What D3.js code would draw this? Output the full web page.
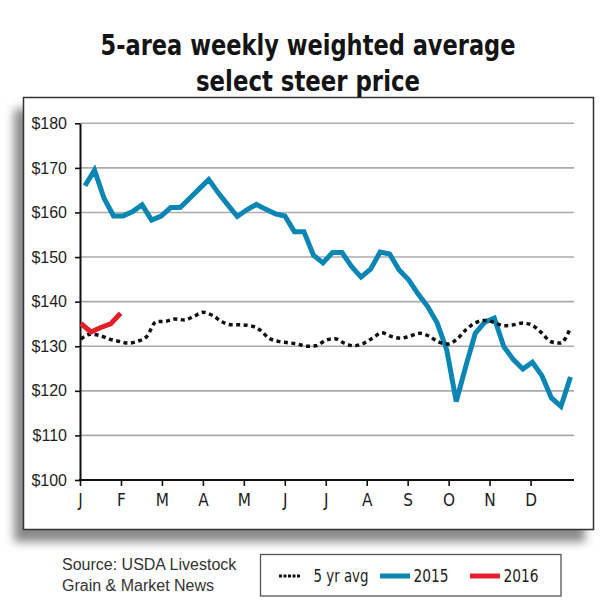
<!DOCTYPE html>
<html>
<head>
<meta charset="utf-8">
<script src="https://cdn.jsdelivr.net/npm/d3@7"></script>
<style>
  body { margin: 0; background: #fff; }
  svg { display: block; }
</style>
</head>
<body>
<div id="chart"></div>
<script>
// Chart data
let titleLines = ["5-area weekly weighted average", "select steer price"]
let monthLabels = ["J","F","M","A","M","J","J","A","S","O","N","D"]
let yTicks = [100,110,120,130,140,150,160,170,180]
let sourceLines = ["Source: USDA Livestock", "Grain & Market News"]
let legendLabels = ["5 yr avg", "2015", "2016"]

// weekly prices, $/cwt
let price2015 = [166.0,169.5,163.2,159.2,159.2,160.2,161.7,158.3,159.2,161.1,
                 161.1,163.2,165.3,167.4,164.4,161.7,159.1,160.6,161.8,160.7,
                 159.7,159.2,155.7,155.7,150.4,148.7,151.0,151.0,147.9,145.5,
                 147.3,151.1,150.7,147.1,144.9,141.7,138.9,135.2,129.2,117.6,
                 125.5,132.9,135.4,136.3,129.9,127.0,124.9,126.4,123.4,118.4,
                 116.5,123.1]
let price2016 = [135.1,133.2,134.2,135.0,137.4]
let avg5yr = [131.6,132.7,132.4,131.6,131.1,130.7,131.1,132.2,135.5,135.6,
              136.1,135.9,136.7,137.6,136.9,135.5,134.8,134.8,134.6,133.7,
              131.8,131.1,130.8,130.5,130.0,130.1,131.3,131.7,130.7,130.1,
              130.6,131.8,133.0,132.2,131.8,132.3,132.9,132.3,131.0,130.5,
              131.6,133.8,135.3,135.8,135.3,134.6,134.8,135.2,134.7,133.0,
              131.0,130.7,133.8]

let width = 610, height = 609
let narrow = "'Liberation Sans Narrow','Arial Narrow','DejaVu Sans Condensed',sans-serif"
let plain = "'Liberation Sans',Arial,Helvetica,sans-serif"

let svg = d3.select("#chart").append("svg")
  .attr("width", width)
  .attr("height", height)

// drop shadow behind the frame
let defs = svg.append("defs")
defs.append("filter")
    .attr("id", "blur")
    .attr("x", "-10%").attr("y", "-10%")
    .attr("width", "120%").attr("height", "120%")
  .append("feGaussianBlur")
    .attr("stdDeviation", 5)

svg.append("rect")
   .attr("x", 14).attr("y", 109)
   .attr("width", 571).attr("height", 433)
   .style("fill", "#8a8a8a")
   .attr("filter", "url(#blur)")

svg.append("rect")
   .attr("x", 23.5).attr("y", 97.5)
   .attr("width", 570).attr("height", 432)
   .style("fill", "#fff")
   .style("stroke", "#333")
   .style("stroke-width", 1.5)

// title
svg.selectAll(".title")
   .data(titleLines)
   .enter()
   .append("text")
   .attr("class", "title")
   .attr("x", 308)
   .attr("y", (d,i) => 55 + i*35.5)
   .attr("text-anchor", "middle")
   .attr("textLength", (d,i) => i == 0 ? 415 : 224)
   .attr("lengthAdjust", "spacingAndGlyphs")
   .style("font-family", narrow)
   .style("font-weight", "bold")
   .style("font-size", "28px")
   .style("fill", "#141414")
   .text(d => d)

// scales
let x = d3.scaleLinear().domain([0, 12]).range([80, 571.5])   // months
let y = d3.scaleLinear().domain([100, 180]).range([480, 123.3])

// place a weekly series between its first and last month position
function weekly(values, first, last) {
  let pos = d3.scaleLinear().domain([0, values.length - 1]).range([first, last])
  return values.map((v,i) => ({m: pos(i), v: v}))
}

// gridlines
svg.append("g")
   .selectAll("line")
   .data(yTicks.filter(d => d > 100))
   .enter()
   .append("line")
   .attr("x1", 80).attr("x2", 574)
   .attr("y1", d => y(d)).attr("y2", d => y(d))
   .style("stroke", "#ababab")
   .style("stroke-width", 1.6)

// y axis
let yAxis = svg.append("g")
  .attr("transform", "translate(80,0)")
  .call(d3.axisLeft(y).tickValues(yTicks).tickSize(5).tickSizeOuter(0)
          .tickPadding(8).tickFormat(d => "$" + d))
yAxis.select(".domain").style("stroke", "#111").style("stroke-width", 2)
yAxis.selectAll(".tick line").style("stroke", "#111").style("stroke-width", 1.6)
yAxis.selectAll("text")
     .style("font-family", plain)
     .style("font-size", "16px")
     .style("fill", "#1e1e1e")

// x axis
let xAxis = svg.append("g")
  .attr("transform", "translate(0,480)")
  .call(d3.axisBottom(x).tickValues(d3.range(12)).tickSize(6).tickSizeOuter(0)
          .tickPadding(8).tickFormat(d => monthLabels[d]))
xAxis.select(".domain").remove()
xAxis.selectAll(".tick line").style("stroke", "#111").style("stroke-width", 1.6)
xAxis.selectAll("text")
     .style("font-family", narrow)
     .style("font-size", "17px")
     .style("fill", "#1e1e1e")
xAxis.append("line")
     .attr("x1", 79).attr("x2", 574)
     .style("stroke", "#111")
     .style("stroke-width", 2)

// series lines
let line = d3.line().x(d => x(d.m)).y(d => y(d.v))

svg.append("path")
   .datum(weekly(price2015, 0.122, 11.975))
   .attr("d", line)
   .style("fill", "none")
   .style("stroke", "#0a86b5")
   .style("stroke-width", 5)

svg.append("path")
   .datum(weekly(avg5yr, 0.024, 11.96))
   .attr("d", line.curve(d3.curveMonotoneX))
   .style("fill", "none")
   .style("stroke", "#111")
   .style("stroke-width", 3.5)
   .style("stroke-dasharray", "4,3.5")

line.curve(d3.curveLinear)

svg.append("path")
   .datum(weekly(price2016, 0.024, 0.99))
   .attr("d", line)
   .style("fill", "none")
   .style("stroke", "#e3202a")
   .style("stroke-width", 5)

// source note
svg.selectAll(".source")
   .data(sourceLines)
   .enter()
   .append("text")
   .attr("class", "source")
   .attr("x", 62)
   .attr("y", (d,i) => 570 + i*20.5)
   .style("font-family", plain)
   .style("font-size", "16px")
   .style("fill", "#333")
   .text(d => d)

// legend
let legend = svg.append("g")
legend.append("rect")
      .attr("x", 260.5).attr("y", 554.5)
      .attr("width", 300.5).attr("height", 41.5)
      .style("fill", "#fff")
      .style("stroke", "#555")
      .style("stroke-width", 1.3)

let legendItems = [
  {label: legendLabels[0], color: "#111", x1: 279, x2: 301, tx: 313.5, tw: 55, dash: "3,1.5", w: 3},
  {label: legendLabels[1], color: "#0a86b5", x1: 380, x2: 410, tx: 413.5, tw: 35, dash: null, w: 5},
  {label: legendLabels[2], color: "#e3202a", x1: 470, x2: 500, tx: 503.5, tw: 35, dash: null, w: 5}
]

legend.selectAll(".key")
      .data(legendItems)
      .enter()
      .append("line")
      .attr("x1", d => d.x1).attr("x2", d => d.x2)
      .attr("y1", 576).attr("y2", 576)
      .style("stroke", d => d.color)
      .style("stroke-width", d => d.w)
      .style("stroke-dasharray", d => d.dash)

legend.selectAll(".label")
      .data(legendItems)
      .enter()
      .append("text")
      .attr("x", d => d.tx)
      .attr("y", 582)
      .attr("textLength", d => d.tw)
      .attr("lengthAdjust", "spacingAndGlyphs")
      .style("font-family", narrow)
      .style("font-size", "18px")
      .style("fill", "#1e1e1e")
      .text(d => d.label)
</script>
</body>
</html>
